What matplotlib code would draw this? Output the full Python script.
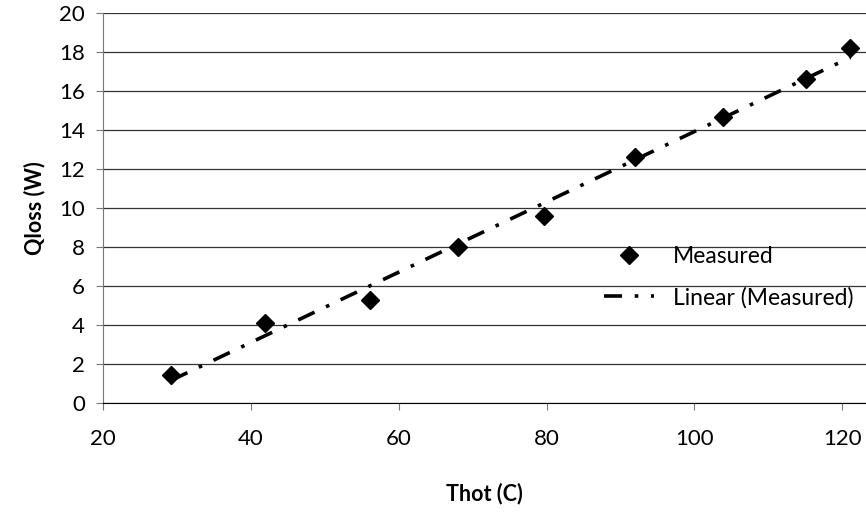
import numpy as np
import matplotlib
matplotlib.use('Agg')
import matplotlib.pyplot as plt

# measured heat loss vs hot-side temperature
thot = [29.2, 41.9, 56.1, 68.0, 79.7, 92.0, 103.9, 115.1, 121.1]
qloss = [1.45, 4.1, 5.28, 8.0, 9.6, 12.6, 14.65, 16.6, 18.2]
yticks = [0, 2, 4, 6, 8, 10, 12, 14, 16, 18, 20]
xticks = [20, 40, 60, 80, 100, 120]

plt.rcParams['font.family'] = ['Lato', 'DejaVu Sans']

fig = plt.figure(figsize=(8.66, 5.16), dpi=100)
ax = fig.add_axes([0.119, 0.219, 0.881, 0.756])

# excel-style linear trendline over the data range
k, b = np.polyfit(thot, qloss, 1)
xs = np.array([min(thot), max(thot)])
ax.plot(xs, k * xs + b, color='black', lw=2.6, dashes=[5, 3.5, 1, 3.5],
        label='Linear (Measured)', zorder=2)
ax.plot(thot, qloss, ls='none', marker='D', ms=9, color='black',
        label='Measured', zorder=3)

ax.set_xlim(20, 123.2)
ax.set_ylim(0, 20)
ax.set_xticks(xticks)
ax.set_yticks(yticks)
ax.yaxis.grid(True, color='#333333', lw=0.9)
ax.set_axisbelow(True)
for s in ['top', 'right']:
    ax.spines[s].set_visible(False)
ax.spines['left'].set_color('#777777')
ax.spines['bottom'].set_color('black')
ax.tick_params(axis='both', labelsize=16, length=5, width=0.8, color='#777777', pad=8)
ax.tick_params(axis='x', pad=14)

ax.set_xlabel('Thot (C)', fontsize=15.5, fontweight='bold', labelpad=24)
ax.set_ylabel('Qloss (W)', fontsize=15.5, fontweight='bold', labelpad=10)

h, l = ax.get_legend_handles_labels()
ax.legend(h[::-1], l[::-1], loc='lower right', bbox_to_anchor=(1.01, 0.19),
          frameon=False, fontsize=16.5, handlelength=2.2, handletextpad=0.8,
          labelspacing=0.85)

fig.savefig('out.png', dpi=100)
